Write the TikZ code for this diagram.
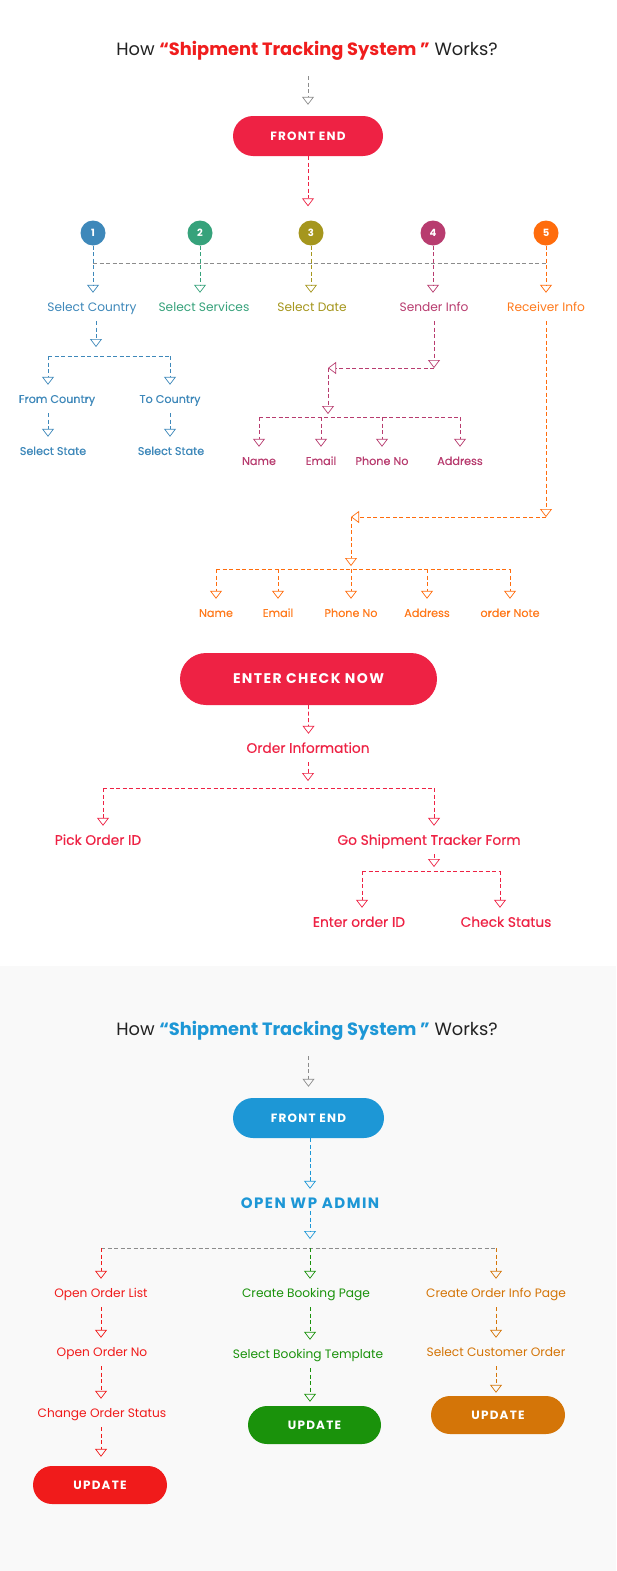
\documentclass[tikz,border=0pt]{standalone}
\usepackage{fontspec}
\setmainfont{Poppins}
\newfontfamily\medfont[FakeBold=0.3]{Poppins}
\newfontfamily\btnfont[LetterSpace=10]{Poppins}
\usetikzlibrary{arrows.meta,shapes.misc}
\definecolor{crimson}{HTML}{EE2244}
\definecolor{titlered}{HTML}{F01D1D}
\definecolor{sky}{HTML}{1D97D6}
\definecolor{cone}{HTML}{3E88BA}
\definecolor{ctwo}{HTML}{36A27B}
\definecolor{cthree}{HTML}{A5961D}
\definecolor{cfour}{HTML}{B83C6F}
\definecolor{cfive}{HTML}{FF6C0C}
\definecolor{rorange}{HTML}{FF7A1C}
\definecolor{ured}{HTML}{F01B1B}
\definecolor{ugreen}{HTML}{1A920B}
\definecolor{uorange}{HTML}{D47508}
\definecolor{panel}{HTML}{F9F9F9}
\definecolor{lgray}{HTML}{8C8C8C}
\definecolor{ink}{HTML}{222222}

\begin{document}
\begin{tikzpicture}[x=1pt, y=-1pt,
  flow/.style={line width=0.8pt, dash pattern=on 4pt off 2.5pt, -{Triangle[open, width=12pt, length=8pt, line width=0.7pt]}},
  bar/.style={line width=0.8pt, dash pattern=on 4pt off 2.5pt},
  num/.style={circle, minimum size=25pt, inner sep=0, text=white, font=\bfseries\fontsize{10}{11}\selectfont},
  lbl/.style={minimum height=28pt, inner sep=0, text height=8.6pt, text depth=0pt, font=\fontsize{12.2}{13}\selectfont},
  sml/.style={minimum height=28pt, inner sep=0, text height=7.9pt, text depth=0pt, font=\medfont\fontsize{11.2}{12}\selectfont},
  big/.style={minimum height=28pt, inner sep=0, text height=9.7pt, text depth=0pt, text=crimson, font=\medfont\fontsize{13.8}{15}\selectfont},
  pill/.style={rounded rectangle, inner sep=0, text=white, font=\btnfont\bfseries\fontsize{12}{14}\selectfont}]

  \useasboundingbox (0,0) rectangle (616,1571);
  \fill[white] (0,0) rectangle (616,966);
  \fill[panel] (0,966) rectangle (616,1571);

  \node[text=ink] (t1) at (307,51) {\fontsize{17.8}{20}\selectfont How {\bfseries\color{titlered}“Shipment Tracking System ”} Works?};
  \node[pill, fill=crimson, minimum width=150pt, minimum height=40pt] (fe) at (308,136) {FRONT END};
  \draw[flow, lgray, shorten <=12pt, shorten >=11pt] (t1.south -| fe) -- (fe.north);

  \node[num, fill=cone]   (n1) at (93,233)  {1};
  \node[num, fill=ctwo]   (n2) at (200,233) {2};
  \node[num, fill=cthree] (n3) at (311,233) {3};
  \node[num, fill=cfour]  (n4) at (433,233) {4};
  \node[num, fill=cfive]  (n5) at (546,233) {5};
  \draw[flow, crimson, shorten >=14pt] (fe.south) -- (fe.south |- n3.north);

  \node[lbl, text=cone]    (sc) at (92,307)  {Select Country};
  \node[lbl, text=ctwo]    (ss) at (204,307) {Select Services};
  \node[lbl, text=cthree]  (sd) at (312,307) {Select Date};
  \node[lbl, text=cfour]   (si) at (434,307) {Sender Info};
  \node[lbl, text=rorange] (ri) at (546,307) {Receiver Info};

  \coordinate (rail) at (0,263);
  \draw[bar, lgray] (n1 |- rail) -- (n5 |- rail);
  \foreach \n/\l/\c in {n1/sc/cone, n2/ss/ctwo, n3/sd/cthree, n4/si/cfour, n5/ri/cfive}
    \draw[flow, \c] (\n) -- (\l.north -| \n);

  \coordinate (cj) at (96,356);
  \coordinate (cl) at (48,356);
  \coordinate (cr) at (170,356);
  \node[sml, text=cone] (fc)  at (57,399)  {From Country};
  \node[sml, text=cone] (tc)  at (170,399) {To Country};
  \node[sml, text=cone] (st1) at (53,451)  {Select State};
  \node[sml, text=cone] (st2) at (171,451) {Select State};
  \draw[flow, cone, shorten >=9pt] (sc.south -| cj) -- (cj);
  \draw[bar, cone] (cl) -- (cr);
  \draw[flow, cone] (cl) -- (fc.north -| cl);
  \draw[flow, cone] (cr) -- (tc.north -| cr);
  \draw[flow, cone] (fc.south -| cl) -- (st1.north -| cl);
  \draw[flow, cone] (tc.south -| cr) -- (st2.north -| cr);

  \coordinate (sj) at (434,368);
  \coordinate (sk) at (328,368);
  \coordinate (sb) at (328,417);
  \node[sml, text=cfour] (sn) at (259,461) {Name};
  \node[sml, text=cfour] (se) at (321,461) {Email};
  \node[sml, text=cfour] (sp) at (382,461) {Phone No};
  \node[sml, text=cfour] (sa) at (460,461) {Address};
  \draw[flow, cfour] (si.south) -- (sj);
  \draw[flow, cfour] (sj) -- (sk);
  \draw[flow, cfour, shorten >=3pt] (sk) -- (sb);
  \draw[bar, cfour] (sn |- sb) -- (sa |- sb);
  \foreach \n in {sn,se,sp,sa}
    \draw[flow, cfour] (\n |- sb) -- (\n.north);

  \coordinate (rj) at (546,517);
  \coordinate (rk) at (351,517);
  \coordinate (rb) at (351,569);
  \node[sml, text=rorange] (rn) at (216,613) {Name};
  \node[sml, text=rorange] (re) at (278,613) {Email};
  \node[sml, text=rorange] (rp) at (351,613) {Phone No};
  \node[sml, text=rorange] (ra) at (427,613) {Address};
  \node[sml, text=rorange] (ro) at (510,613) {order Note};
  \draw[flow, cfive] (ri.south) -- (rj);
  \draw[flow, cfive] (rj) -- (rk);
  \draw[flow, cfive, shorten >=3pt] (rk) -- (rb);
  \draw[bar, cfive] (rn |- rb) -- (ro |- rb);
  \foreach \n in {rn,re,rp,ra,ro}
    \draw[flow, cfive] (\n |- rb) -- (\n.north);

  \node[pill, fill=crimson, minimum width=257pt, minimum height=52pt, font=\btnfont\bfseries\fontsize{14}{16}\selectfont] (ec) at (308.5,679) {ENTER CHECK NOW};
  \node[big] (oi) at (308,748) {Order Information};
  \draw[flow, crimson] (ec) -- (oi.north -| ec);
  \coordinate (oj) at (308,788);
  \coordinate (ol) at (103,788);
  \coordinate (or) at (434,788);
  \node[big] (po) at (98,840)  {Pick Order ID};
  \node[big] (gs) at (429,840) {Go Shipment Tracker Form};
  \draw[flow, crimson, shorten >=7pt] (oi.south) -- (oj);
  \draw[bar, crimson] (ol) -- (or);
  \draw[flow, crimson] (ol) -- (po.north -| ol);
  \draw[flow, crimson] (or) -- (gs.north -| or);
  \coordinate (gj) at (434,871);
  \coordinate (gl) at (362,871);
  \coordinate (gr) at (500,871);
  \node[big] (eo) at (359,922) {Enter order ID};
  \node[big] (cs) at (506,922) {Check Status};
  \draw[flow, crimson, shorten >=4pt] (gs.south -| gj) -- (gj);
  \draw[bar, crimson] (gl) -- (gr);
  \draw[flow, crimson] (gl) -- (eo.north -| gl);
  \draw[flow, crimson] (gr) -- (cs.north -| gr);

  \node[text=ink] (t2) at (307,1031) {\fontsize{17.8}{20}\selectfont How {\bfseries\color{sky}“Shipment Tracking System ”} Works?};
  \node[pill, fill=sky, minimum width=151pt, minimum height=40pt] (fe2) at (308.5,1118) {FRONT END};
  \draw[flow, lgray, shorten <=12pt, shorten >=11pt] (t2.south -| fe2) -- (fe2.north);
  \node[inner sep=0, minimum height=16pt, text=sky, font=\btnfont\bfseries\fontsize{15}{16}\selectfont] (wp) at (310,1203) {OPEN WP ADMIN};
  \draw[flow, sky, shorten >=6pt] (fe2.south -| wp) -- (wp.north);
  \coordinate (a1) at (101,1248);
  \coordinate (a2) at (310,1248);
  \coordinate (a3) at (496,1248);
  \draw[flow, sky, shorten >=9pt] (wp.south) -- (a2);
  \draw[bar, lgray] (a1) -- (a3);

  \node[lbl, text=ured] (oll) at (101,1293) {Open Order List};
  \node[lbl, text=ured] (ono) at (102,1352) {Open Order No};
  \node[lbl, text=ured] (cos) at (102,1413) {Change Order Status};
  \node[pill, fill=ured, minimum width=134pt, minimum height=38pt] (ur) at (100,1485) {UPDATE};
  \draw[flow, ured] (a1) -- (oll.north -| a1);
  \draw[flow, ured] (oll.south -| a1) -- (ono.north -| a1);
  \draw[flow, ured] (ono.south -| a1) -- (cos.north -| a1);
  \draw[flow, ured, shorten >=9pt] (cos.south -| a1) -- (ur.north -| a1);

  \node[lbl, text=ugreen] (cbp) at (306,1293) {Create Booking Page};
  \node[lbl, text=ugreen] (sbt) at (308,1354) {Select Booking Template};
  \node[pill, fill=ugreen, minimum width=133pt, minimum height=38pt] (ug) at (314.5,1425) {UPDATE};
  \draw[flow, ugreen] (a2) -- (cbp.north -| a2);
  \draw[flow, ugreen] (cbp.south -| a2) -- (sbt.north -| a2);
  \draw[flow, ugreen, shorten >=4pt] (sbt.south -| a2) -- (ug.north -| a2);

  \node[lbl, text=uorange] (cip) at (496,1293) {Create Order Info Page};
  \node[lbl, text=uorange] (sco) at (496,1352) {Select Customer Order};
  \node[pill, fill=uorange, minimum width=134pt, minimum height=38pt] (uo) at (498,1415) {UPDATE};
  \draw[flow, uorange] (a3) -- (cip.north -| a3);
  \draw[flow, uorange] (cip.south -| a3) -- (sco.north -| a3);
  \draw[flow, uorange, shorten >=3pt] (sco.south -| a3) -- (uo.north -| a3);
\end{tikzpicture}
\end{document}
